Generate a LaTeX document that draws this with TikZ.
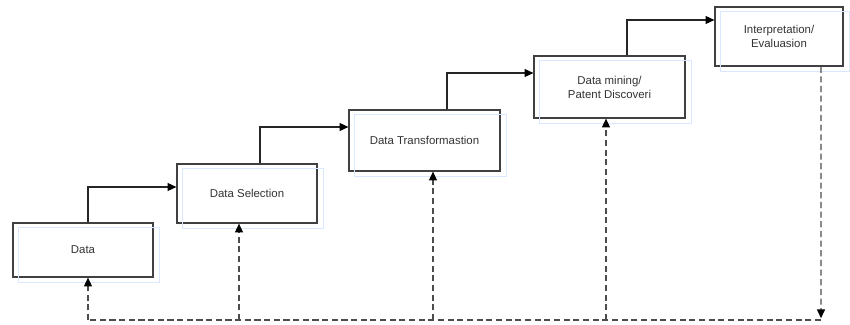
\documentclass[tikz,border=0pt]{standalone}
\usepackage{fontspec}
\setmainfont{Liberation Sans}
\usetikzlibrary{arrows.meta}

\tikzset{
  stage/.style={draw=black!75, line width=0.7pt, align=center, text=black!80,
    font=\fontsize{6.5}{8}\selectfont, inner sep=0pt},
  ghost/.style={draw=blue!60!cyan!15, line width=0.5pt},
  flow/.style={draw=black!85, line width=0.7pt, -{Triangle[length=5pt,width=4.5pt,black]}},
  back/.style={draw=black!70, line width=0.7pt, dash pattern=on 3.5pt off 2pt},
  backtip/.style={back, -{Triangle[length=5pt,width=4.5pt,black,sep=0pt]}}
}

\begin{document}
\begin{tikzpicture}[x=0.02cm, y=-0.02cm]
  \useasboundingbox (0,0) rectangle (850,325);

  % Stages
  \node[stage, minimum width=2.8cm, minimum height=1.08cm] (data) at (83,250) {Data};
  \node[stage, minimum width=2.8cm, minimum height=1.18cm] (sel) at (247,193.5) {Data Selection};
  \node[stage, minimum width=3.02cm, minimum height=1.22cm] (trans) at (424.5,140.5) {Data Transformastion};
  \node[stage, minimum width=3.02cm, minimum height=1.24cm] (mine) at (609.5,87) {Data mining/\\Patent Discoveri};
  \node[stage, minimum width=2.56cm, minimum height=1.18cm] (interp) at (779,36.5) {Interpretation/\\Evaluasion};

  % Faint shadows of the boxes
  \foreach \n in {data,sel,trans,mine,interp}
    \draw[ghost] ([xshift=3.5pt,yshift=-3pt]\n.south west) rectangle ([xshift=3.5pt,yshift=-3pt]\n.north east);

  % Forward steps
  \draw[flow] ([xshift=0.1cm]data.north) |- ([yshift=0.13cm]sel.west);
  \draw[flow] ([xshift=0.26cm]sel.north) |- ([yshift=0.27cm]trans.west);
  \draw[flow] ([xshift=0.45cm]trans.north) |- ([yshift=0.28cm]mine.west);
  \draw[flow] ([xshift=0.35cm]mine.north) |- ([yshift=0.33cm]interp.west);

  % Feedback loop
  \coordinate (b0) at (88,320);
  \coordinate (b1) at (239,320);
  \coordinate (b2) at (433,320);
  \coordinate (b3) at (606,320);
  \coordinate (b4) at (821,320);
  \draw[backtip] ([xshift=0.84cm]interp.south) -- ([yshift=1pt]b4);
  \draw[back] (b4) -- (b0);
  \draw[backtip] (b0) -- (b0 |- data.south);
  \draw[backtip] (b1) -- (b1 |- sel.south);
  \draw[backtip] (b2) -- (b2 |- trans.south);
  \draw[backtip] (b3) -- (b3 |- mine.south);
\end{tikzpicture}
\end{document}
